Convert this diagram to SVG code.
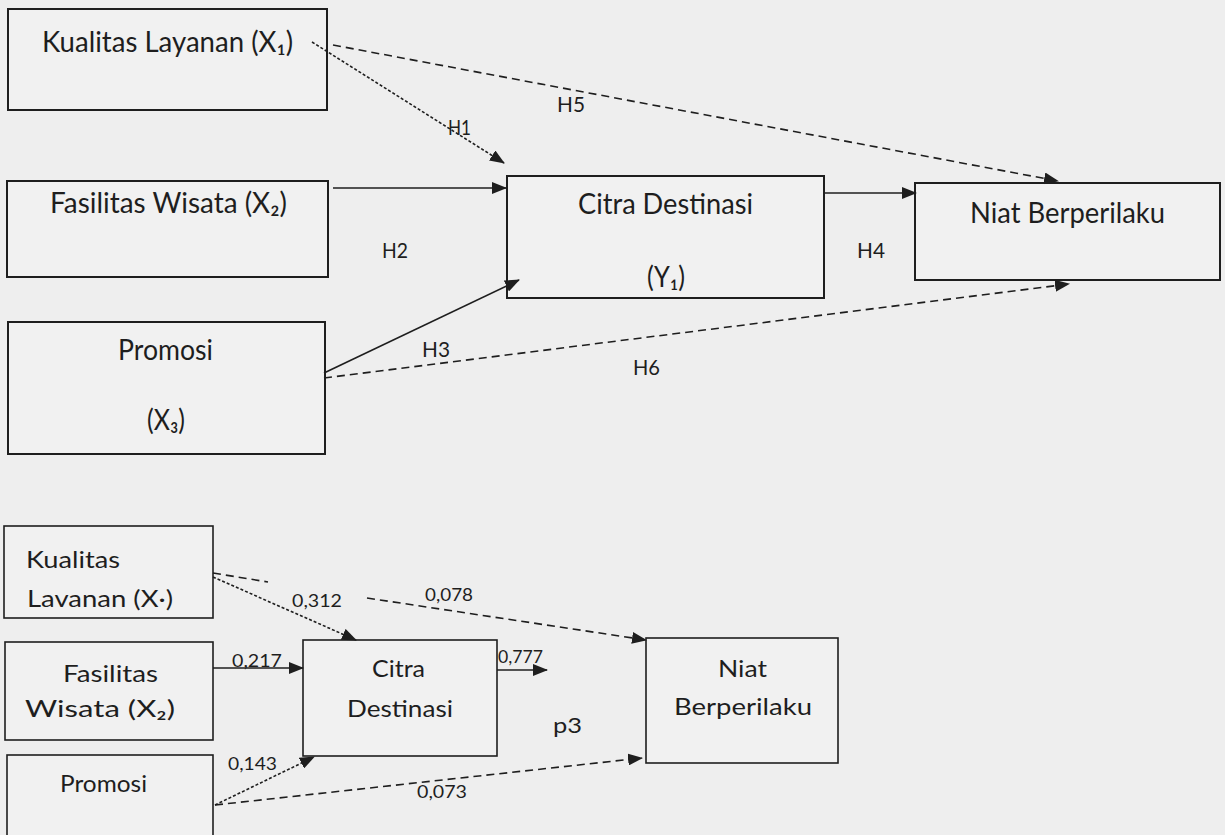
<svg xmlns="http://www.w3.org/2000/svg" width="1225" height="835" viewBox="0 0 1225 835">
<style>
.box{fill:#f1f1f1;stroke:#1e1e1e;stroke-width:2}
.box2{fill:#f1f1f1;stroke:#1e1e1e;stroke-width:1.6}
.t{font-family:Lato,"DejaVu Sans",sans-serif;fill:#1e1e1e}
.tl{font-size:29px}
.ts{font-size:24px}
.lb{font-family:Lato,"Liberation Sans",sans-serif;fill:#1e1e1e;font-size:21px}
.lb2{font-family:Lato,"Liberation Sans",sans-serif;fill:#1e1e1e;font-size:18px}
.c{fill:none;stroke:#1e1e1e;stroke-width:1.6}
.dash{stroke-dasharray:8 5}
.dot{stroke-dasharray:3 2}
</style>
<defs>
<marker id="ah" markerWidth="15" markerHeight="12" refX="14" refY="6" orient="auto" markerUnits="userSpaceOnUse">
<path d="M0,0 L15,6 L0,12 Z" fill="#1e1e1e"/>
</marker>
</defs>
<rect x="0" y="0" width="1225" height="835" fill="#eeeeee"/>

<!-- top diagram nodes -->
<g id="X1">
<rect class="box" x="8" y="9" width="319" height="101"/>
<text class="t tl" x="42" y="52" textLength="251" lengthAdjust="spacingAndGlyphs">Kualitas Layanan (X₁)</text>
</g>
<g id="X2">
<rect class="box" x="7" y="181" width="321" height="96"/>
<text class="t tl" x="50" y="213" textLength="237" lengthAdjust="spacingAndGlyphs">Fasilitas Wisata (X₂)</text>
</g>
<g id="X3">
<rect class="box" x="8" y="322" width="317" height="132"/>
<text class="t tl" x="118" y="360" textLength="95" lengthAdjust="spacingAndGlyphs">Promosi</text>
<text class="t tl" x="147" y="430" textLength="38" lengthAdjust="spacingAndGlyphs">(X₃)</text>
</g>
<g id="Y1">
<rect class="box" x="507" y="176" width="317" height="122"/>
<text class="t tl" x="578" y="214" textLength="175" lengthAdjust="spacingAndGlyphs">Citra Destinasi</text>
<text class="t tl" x="647" y="287" textLength="38" lengthAdjust="spacingAndGlyphs">(Y₁)</text>
</g>
<g id="Y2">
<rect class="box" x="915" y="183" width="305" height="97"/>
<text class="t tl" x="970" y="223" textLength="195" lengthAdjust="spacingAndGlyphs">Niat Berperilaku</text>
</g>

<!-- bottom diagram nodes -->
<g id="bX1">
<rect class="box2" x="4" y="526" width="209" height="92"/>
<text class="t ts" x="26" y="568" textLength="94" lengthAdjust="spacingAndGlyphs">Kualitas</text>
<text class="t ts" x="27" y="607" textLength="146" lengthAdjust="spacingAndGlyphs">Lavanan (X·)</text>
</g>
<g id="bX2">
<rect class="box2" x="5" y="642" width="208" height="98"/>
<text class="t ts" x="63" y="682" textLength="95" lengthAdjust="spacingAndGlyphs">Fasilitas</text>
<text class="t ts" x="25" y="717" textLength="150" lengthAdjust="spacingAndGlyphs">Wisata (X₂)</text>
</g>
<g id="bX3">
<rect class="box2" x="7" y="755" width="206" height="90"/>
<text class="t ts" x="60" y="792" textLength="87" lengthAdjust="spacingAndGlyphs">Promosi</text>
</g>
<g id="bY1">
<rect class="box2" x="303" y="640" width="194" height="116"/>
<text class="t ts" x="372" y="677" textLength="53" lengthAdjust="spacingAndGlyphs">Citra</text>
<text class="t ts" x="347" y="717" textLength="106" lengthAdjust="spacingAndGlyphs">Destinasi</text>
</g>
<g id="bY2">
<rect class="box2" x="646" y="638" width="192" height="125"/>
<text class="t ts" x="718" y="677" textLength="49" lengthAdjust="spacingAndGlyphs">Niat</text>
<text class="t ts" x="674" y="715" textLength="138" lengthAdjust="spacingAndGlyphs">Berperilaku</text>
</g>

<g id="connectors">
<!-- top -->
<path id="H1" class="c dot" d="M312,42 L504,163" marker-end="url(#ah)"/>
<path id="H5" class="c dash" d="M333,45 L1058,181" marker-end="url(#ah)"/>
<path id="H2" class="c" d="M333,188 L506,188" marker-end="url(#ah)"/>
<path id="H3" class="c" d="M324,373 L519,280" marker-end="url(#ah)"/>
<path id="H6" class="c dash" d="M324,378 L1069,284" marker-end="url(#ah)"/>
<path id="H4" class="c" d="M825,193 L916,193" marker-end="url(#ah)"/>
<!-- bottom -->
<path id="e312" class="c dot" d="M213,577 L356,640" marker-end="url(#ah)"/>
<path id="e078a" class="c dash" d="M213,573 L268,582"/>
<path id="e078b" class="c dash" d="M367,598 L646,640" marker-end="url(#ah)"/>
<path id="e217" class="c" d="M213,668 L303,668" marker-end="url(#ah)"/>
<path id="e143" class="c dot" d="M215,805 L314,757" marker-end="url(#ah)"/>
<path id="e073" class="c dash" d="M215,805 L642,758" marker-end="url(#ah)"/>
<path id="e777" class="c" d="M497,670 L547,670" marker-end="url(#ah)"/>
</g>

<g id="labels">
<text class="lb" x="448" y="135" textLength="23" lengthAdjust="spacingAndGlyphs">H1</text>
<text class="lb" x="557" y="112" textLength="28" lengthAdjust="spacingAndGlyphs">H5</text>
<text class="lb" x="382" y="258" textLength="26" lengthAdjust="spacingAndGlyphs">H2</text>
<text class="lb" x="422" y="357" textLength="28" lengthAdjust="spacingAndGlyphs">H3</text>
<text class="lb" x="633" y="375" textLength="27" lengthAdjust="spacingAndGlyphs">H6</text>
<text class="lb" x="857" y="258" textLength="28" lengthAdjust="spacingAndGlyphs">H4</text>
<text class="lb2" x="292" y="607" textLength="50" lengthAdjust="spacingAndGlyphs">0,312</text>
<text class="lb2" x="425" y="601" textLength="48" lengthAdjust="spacingAndGlyphs">0,078</text>
<text class="lb2" x="232" y="667" textLength="50" lengthAdjust="spacingAndGlyphs">0,217</text>
<text class="lb2" x="498" y="663" textLength="45" lengthAdjust="spacingAndGlyphs">0,777</text>
<text class="lb2" x="228" y="770" textLength="49" lengthAdjust="spacingAndGlyphs">0,143</text>
<text class="lb2" x="417" y="798" textLength="50" lengthAdjust="spacingAndGlyphs">0,073</text>
<text class="lb" x="553" y="733" font-size="24" textLength="29" lengthAdjust="spacingAndGlyphs">p3</text>
</g>
</svg>
